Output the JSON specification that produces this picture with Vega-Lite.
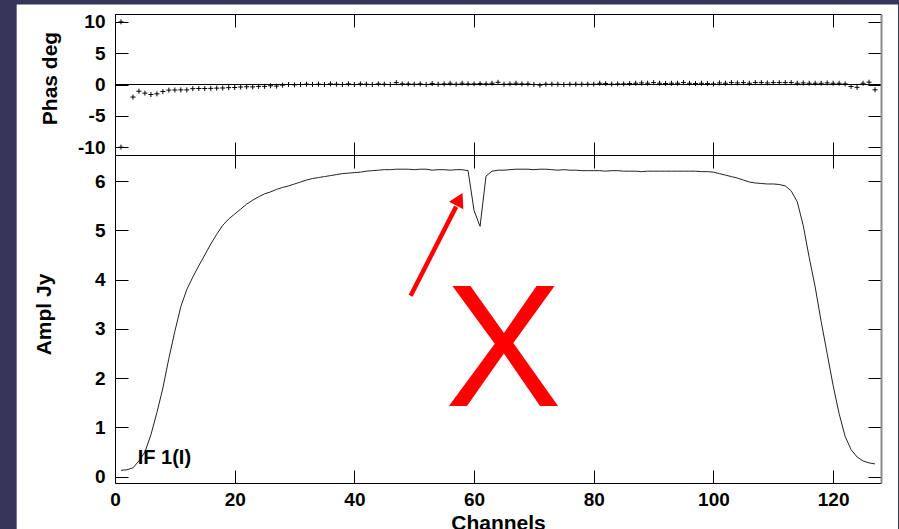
{
  "$schema": "https://vega.github.io/schema/vega-lite/v6.json",
  "background": "#36365a",
  "padding": {"left": 16, "top": 4, "right": 2, "bottom": 0},
  "spacing": 0,
  "bounds": "flush",
  "config": {
    "view": {"stroke": null},
    "axis": {
      "grid": false, "domain": true, "domainColor": "#000", "domainWidth": 1,
      "tickColor": "#000", "tickSize": -13, "tickWidth": 1,
      "labelFont": "Liberation Sans", "labelFontWeight": "bold", "labelFontSize": 19, "labelColor": "#000",
      "titleFont": "Liberation Sans", "titleFontWeight": "bold", "titleFontSize": 21, "titleColor": "#000",
      "zindex": 1, "labelFlush": false, "labelOverlap": false
    },
    "axisX": {"labelPadding": 20},
    "axisY": {"labelPadding": 23}
  },
  "datasets": {
    "phase": [
      {"ch":1,"phase":10},{"ch":1,"phase":-10},
      {"ch":3,"phase":-2.0},{"ch":4,"phase":-1.07},{"ch":5,"phase":-1.38},{"ch":6,"phase":-1.6},{"ch":7,"phase":-1.49},{"ch":8,"phase":-1.12},{"ch":9,"phase":-0.9},{"ch":10,"phase":-0.88},
      {"ch":11,"phase":-0.86},{"ch":12,"phase":-0.86},{"ch":13,"phase":-0.66},{"ch":14,"phase":-0.64},{"ch":15,"phase":-0.64},{"ch":16,"phase":-0.62},{"ch":17,"phase":-0.58},{"ch":18,"phase":-0.56},{"ch":19,"phase":-0.5},{"ch":20,"phase":-0.48},
      {"ch":21,"phase":-0.4},{"ch":22,"phase":-0.36},{"ch":23,"phase":-0.38},{"ch":24,"phase":-0.3},{"ch":25,"phase":-0.3},{"ch":26,"phase":-0.2},{"ch":27,"phase":-0.25},{"ch":28,"phase":-0.1},{"ch":29,"phase":0.0},{"ch":30,"phase":-0.05},
      {"ch":31,"phase":0.0},{"ch":32,"phase":0.05},{"ch":33,"phase":0.0},{"ch":34,"phase":0.05},{"ch":35,"phase":0.0},{"ch":36,"phase":0.1},{"ch":37,"phase":0.05},{"ch":38,"phase":0.0},{"ch":39,"phase":0.1},{"ch":40,"phase":0.0},
      {"ch":41,"phase":0.1},{"ch":42,"phase":0.05},{"ch":43,"phase":0.0},{"ch":44,"phase":0.1},{"ch":45,"phase":0.05},{"ch":46,"phase":0.0},{"ch":47,"phase":0.3},{"ch":48,"phase":0.1},{"ch":49,"phase":0.1},{"ch":50,"phase":0.05},
      {"ch":51,"phase":0.1},{"ch":52,"phase":0.0},{"ch":53,"phase":0.15},{"ch":54,"phase":0.05},{"ch":55,"phase":0.1},{"ch":56,"phase":0.2},{"ch":57,"phase":0.05},{"ch":58,"phase":0.2},{"ch":59,"phase":0.1},{"ch":60,"phase":0.1},
      {"ch":61,"phase":0.15},{"ch":62,"phase":0.1},{"ch":63,"phase":0.2},{"ch":64,"phase":0.35},{"ch":65,"phase":0.05},{"ch":66,"phase":0.1},{"ch":67,"phase":0.2},{"ch":68,"phase":0.1},{"ch":69,"phase":0.1},{"ch":70,"phase":0.0},
      {"ch":71,"phase":-0.1},{"ch":72,"phase":0.05},{"ch":73,"phase":0.05},{"ch":74,"phase":0.05},{"ch":75,"phase":0.0},{"ch":76,"phase":0.05},{"ch":77,"phase":0.05},{"ch":78,"phase":0.05},{"ch":79,"phase":0.05},{"ch":80,"phase":0.05},
      {"ch":81,"phase":0.2},{"ch":82,"phase":0.15},{"ch":83,"phase":0.05},{"ch":84,"phase":0.1},{"ch":85,"phase":0.1},{"ch":86,"phase":0.15},{"ch":87,"phase":0.2},{"ch":88,"phase":0.25},{"ch":89,"phase":0.2},{"ch":90,"phase":0.3},
      {"ch":91,"phase":0.2},{"ch":92,"phase":0.15},{"ch":93,"phase":0.2},{"ch":94,"phase":0.2},{"ch":95,"phase":0.3},{"ch":96,"phase":0.2},{"ch":97,"phase":0.15},{"ch":98,"phase":0.2},{"ch":99,"phase":0.15},{"ch":100,"phase":0.1},
      {"ch":101,"phase":0.25},{"ch":102,"phase":0.2},{"ch":103,"phase":0.3},{"ch":104,"phase":0.25},{"ch":105,"phase":0.3},{"ch":106,"phase":0.2},{"ch":107,"phase":0.3},{"ch":108,"phase":0.3},{"ch":109,"phase":0.25},{"ch":110,"phase":0.3},
      {"ch":111,"phase":0.3},{"ch":112,"phase":0.3},{"ch":113,"phase":0.3},{"ch":114,"phase":0.2},{"ch":115,"phase":0.25},{"ch":116,"phase":0.2},{"ch":117,"phase":0.2},{"ch":118,"phase":0.2},{"ch":119,"phase":0.25},{"ch":120,"phase":0.2},
      {"ch":121,"phase":0.2},{"ch":122,"phase":0.1},{"ch":123,"phase":-0.32},{"ch":124,"phase":-0.45},{"ch":125,"phase":0.2},{"ch":126,"phase":0.37},{"ch":127,"phase":-0.85}
    ],
    "amp": [
      {"ch":1,"amp":0.13},{"ch":2,"amp":0.14},{"ch":3,"amp":0.18},{"ch":4,"amp":0.32},{"ch":5,"amp":0.5},{"ch":6,"amp":0.85},{"ch":7,"amp":1.3},{"ch":8,"amp":1.8},{"ch":9,"amp":2.4},{"ch":10,"amp":2.95},
      {"ch":11,"amp":3.45},{"ch":12,"amp":3.8},{"ch":13,"amp":4.05},{"ch":14,"amp":4.28},{"ch":15,"amp":4.5},{"ch":16,"amp":4.72},{"ch":17,"amp":4.92},{"ch":18,"amp":5.1},{"ch":19,"amp":5.23},{"ch":20,"amp":5.33},
      {"ch":21,"amp":5.43},{"ch":22,"amp":5.53},{"ch":23,"amp":5.61},{"ch":24,"amp":5.68},{"ch":25,"amp":5.74},{"ch":26,"amp":5.78},{"ch":27,"amp":5.83},{"ch":28,"amp":5.87},{"ch":29,"amp":5.9},{"ch":30,"amp":5.94},
      {"ch":31,"amp":5.98},{"ch":32,"amp":6.02},{"ch":33,"amp":6.05},{"ch":34,"amp":6.07},{"ch":35,"amp":6.09},{"ch":36,"amp":6.11},{"ch":37,"amp":6.13},{"ch":38,"amp":6.15},{"ch":39,"amp":6.16},{"ch":40,"amp":6.17},
      {"ch":41,"amp":6.18},{"ch":42,"amp":6.2},{"ch":43,"amp":6.21},{"ch":44,"amp":6.22},{"ch":45,"amp":6.23},{"ch":46,"amp":6.23},{"ch":47,"amp":6.24},{"ch":48,"amp":6.24},{"ch":49,"amp":6.24},{"ch":50,"amp":6.23},
      {"ch":51,"amp":6.24},{"ch":52,"amp":6.24},{"ch":53,"amp":6.22},{"ch":54,"amp":6.23},{"ch":55,"amp":6.23},{"ch":56,"amp":6.22},{"ch":57,"amp":6.23},{"ch":58,"amp":6.23},{"ch":59,"amp":6.21},{"ch":60,"amp":5.4},
      {"ch":61,"amp":5.08},{"ch":62,"amp":6.1},{"ch":63,"amp":6.2},{"ch":64,"amp":6.22},{"ch":65,"amp":6.22},{"ch":66,"amp":6.23},{"ch":67,"amp":6.24},{"ch":68,"amp":6.24},{"ch":69,"amp":6.24},{"ch":70,"amp":6.23},
      {"ch":71,"amp":6.24},{"ch":72,"amp":6.24},{"ch":73,"amp":6.23},{"ch":74,"amp":6.22},{"ch":75,"amp":6.23},{"ch":76,"amp":6.22},{"ch":77,"amp":6.22},{"ch":78,"amp":6.21},{"ch":79,"amp":6.21},{"ch":80,"amp":6.21},
      {"ch":81,"amp":6.21},{"ch":82,"amp":6.2},{"ch":83,"amp":6.21},{"ch":84,"amp":6.21},{"ch":85,"amp":6.2},{"ch":86,"amp":6.2},{"ch":87,"amp":6.2},{"ch":88,"amp":6.19},{"ch":89,"amp":6.2},{"ch":90,"amp":6.2},
      {"ch":91,"amp":6.2},{"ch":92,"amp":6.2},{"ch":93,"amp":6.2},{"ch":94,"amp":6.2},{"ch":95,"amp":6.2},{"ch":96,"amp":6.2},{"ch":97,"amp":6.2},{"ch":98,"amp":6.19},{"ch":99,"amp":6.19},{"ch":100,"amp":6.18},
      {"ch":101,"amp":6.15},{"ch":102,"amp":6.12},{"ch":103,"amp":6.09},{"ch":104,"amp":6.06},{"ch":105,"amp":6.02},{"ch":106,"amp":5.98},{"ch":107,"amp":5.96},{"ch":108,"amp":5.95},{"ch":109,"amp":5.94},{"ch":110,"amp":5.94},
      {"ch":111,"amp":5.93},{"ch":112,"amp":5.9},{"ch":113,"amp":5.8},{"ch":114,"amp":5.58},{"ch":115,"amp":5.1},{"ch":116,"amp":4.45},{"ch":117,"amp":3.85},{"ch":118,"amp":3.15},{"ch":119,"amp":2.5},{"ch":120,"amp":1.85},
      {"ch":121,"amp":1.28},{"ch":122,"amp":0.82},{"ch":123,"amp":0.55},{"ch":124,"amp":0.4},{"ch":125,"amp":0.32},{"ch":126,"amp":0.28},{"ch":127,"amp":0.26}
    ]
  },
  "vconcat": [
    {
      "width": 766,
      "height": 141,
      "layer": [
        {
          "data": {"values": [{}]},
          "mark": {"type": "rect", "fill": "#ffffff", "stroke": null},
          "encoding": {
            "x": {"datum": -16.43, "type": "quantitative", "scale": {"domain": [0, 128], "nice": false, "zero": false},
                  "axis": {"orient": "top", "zindex": 1, "labels": false, "title": null, "values": [0, 20, 40, 60, 80, 100, 120]}},
            "x2": {"datum": 130.84},
            "y": {"datum": 12.76, "type": "quantitative", "scale": {"domain": [-11.25, 11.25], "nice": false, "zero": false},
                  "axis": {"orient": "right", "zindex": 1, "labels": false, "title": null, "domainColor": "#8a8a8a", "domainWidth": 2, "values": [-10, -5, 0, 5, 10]}},
            "y2": {"datum": -11.25}
          }
        },
        {
          "data": {"values": [{}]},
          "mark": {"type": "rule", "color": "#000", "strokeWidth": 1},
          "encoding": {
            "y": {"datum": 0, "type": "quantitative", "scale": {"domain": [-11.25, 11.25], "nice": false, "zero": false}, "axis": null}
          }
        },
        {
          "data": {"name": "phase"},
          "mark": {"type": "point", "shape": "M-1,0L1,0M0,-1L0,1", "filled": false, "stroke": "#000", "strokeWidth": 1, "size": 25, "opacity": 1},
          "encoding": {
            "x": {"field": "ch", "type": "quantitative", "scale": {"domain": [0, 128], "nice": false, "zero": false},
                  "axis": {"orient": "bottom", "zindex": 1, "labels": false, "title": null, "values": [0, 20, 40, 60, 80, 100, 120]}},
            "y": {"field": "phase", "type": "quantitative", "scale": {"domain": [-11.25, 11.25], "nice": false, "zero": false},
                  "axis": {"orient": "left", "zindex": 1, "title": "Phas deg", "titlePadding": 17, "titleY": 64, "labelExpr": "datum.value + ''", "values": [-10, -5, 0, 5, 10]}}
          }
        }
      ],
      "resolve": {"axis": {"x": "independent", "y": "independent"}}
    },
    {
      "width": 766,
      "height": 328,
      "layer": [
        {
          "data": {"values": [{}]},
          "mark": {"type": "rect", "fill": "#ffffff", "stroke": null},
          "encoding": {
            "x": {"datum": -16.43, "type": "quantitative", "scale": {"domain": [0, 128], "nice": false, "zero": false},
                  "axis": {"orient": "top", "zindex": 1, "labels": false, "title": null, "values": [0, 20, 40, 60, 80, 100, 120]}},
            "x2": {"datum": 130.84},
            "y": {"datum": 6.528, "type": "quantitative", "scale": {"domain": [-0.128, 6.528], "nice": false, "zero": false},
                  "axis": {"orient": "right", "zindex": 1, "labels": false, "title": null, "domainColor": "#8a8a8a", "domainWidth": 2, "values": [0, 1, 2, 3, 4, 5, 6]}},
            "y2": {"datum": -1.08}
          }
        },
        {
          "data": {"name": "amp"},
          "mark": {"type": "line", "color": "#222", "strokeWidth": 1},
          "encoding": {
            "x": {"field": "ch", "type": "quantitative", "scale": {"domain": [0, 128], "nice": false, "zero": false},
                  "axis": {"orient": "bottom", "zindex": 1, "title": "Channels", "titlePadding": 3, "values": [0, 20, 40, 60, 80, 100, 120]}},
            "y": {"field": "amp", "type": "quantitative", "scale": {"domain": [-0.128, 6.528], "nice": false, "zero": false},
                  "axis": {"orient": "left", "zindex": 1, "title": "Ampl Jy", "titlePadding": 40, "titleY": 159, "values": [0, 1, 2, 3, 4, 5, 6]}}
          }
        },
        {
          "data": {"values": [{"label": "IF 1(I)"}]},
          "mark": {"type": "text", "font": "Liberation Sans", "fontWeight": "bold", "fontSize": 20, "align": "left", "baseline": "alphabetic", "color": "#000"},
          "encoding": {
            "x": {"datum": 3.8, "type": "quantitative", "scale": {"domain": [0, 128], "nice": false, "zero": false}, "axis": null},
            "y": {"datum": 0.25, "type": "quantitative", "scale": {"domain": [-0.128, 6.528], "nice": false, "zero": false}, "axis": null},
            "text": {"field": "label"}
          }
        },
        {
          "data": {"values": [{"label": "X"}]},
          "mark": {"type": "text", "font": "Liberation Sans", "fontSize": 175, "align": "center", "baseline": "alphabetic", "color": "#ff0000"},
          "encoding": {
            "x": {"datum": 64.9, "type": "quantitative", "scale": {"domain": [0, 128], "nice": false, "zero": false}, "axis": null},
            "y": {"datum": 1.435, "type": "quantitative", "scale": {"domain": [-0.128, 6.528], "nice": false, "zero": false}, "axis": null},
            "text": {"field": "label"}
          }
        },
        {
          "data": {"values": [{}]},
          "mark": {"type": "rule", "color": "#ff0000", "strokeWidth": 4.5},
          "encoding": {
            "x": {"datum": 49.4, "type": "quantitative", "scale": {"domain": [0, 128], "nice": false, "zero": false}, "axis": null},
            "x2": {"datum": 57.0},
            "y": {"datum": 3.67, "type": "quantitative", "scale": {"domain": [-0.128, 6.528], "nice": false, "zero": false}, "axis": null},
            "y2": {"datum": 5.48}
          }
        },
        {
          "data": {"values": [{}]},
          "mark": {"type": "point", "shape": "triangle-up", "filled": true, "color": "#ff0000", "opacity": 1, "size": 260, "angle": 27},
          "encoding": {
            "x": {"datum": 57.54, "type": "quantitative", "scale": {"domain": [0, 128], "nice": false, "zero": false}, "axis": null},
            "y": {"datum": 5.63, "type": "quantitative", "scale": {"domain": [-0.128, 6.528], "nice": false, "zero": false}, "axis": null}
          }
        }
      ],
      "resolve": {"axis": {"x": "independent", "y": "independent"}}
    }
  ]
}
